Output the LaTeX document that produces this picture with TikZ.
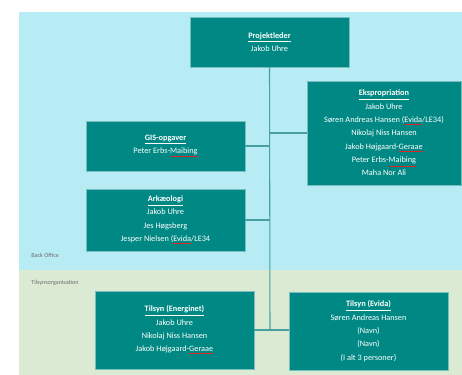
\documentclass[tikz,border=0pt]{standalone}
\usepackage{fontspec}
\setmainfont{Carlito}
\definecolor{boxteal}{RGB}{0,137,132}
\definecolor{edgeteal}{RGB}{120,190,190}
\definecolor{linkteal}{RGB}{70,160,162}
\definecolor{officeblue}{RGB}{184,236,245}
\definecolor{fieldgreen}{RGB}{218,234,211}
\definecolor{spellred}{RGB}{225,35,35}
\definecolor{labelgray}{RGB}{110,110,110}
% red underline for flagged words: the rule takes the outer colour
\newcommand\flagged[1]{\begingroup\color{spellred}\underline{\textcolor{white}{#1}}\endgroup}
\newcommand\boxtitle[1]{\underline{\textbf{#1}}}
\tikzset{
  unit/.style={fill=boxteal, draw=edgeteal, line width=0.5pt, text=white,
    align=center, inner sep=0pt, minimum width=119.25pt,
    font=\fontsize{6.2}{10}\selectfont},
  link/.style={draw=linkteal, line width=0.8pt},
  zonelabel/.style={anchor=west, text=labelgray, inner sep=0pt,
    font=\fontsize{4.6}{5}\selectfont}
}
\begin{document}
\begin{tikzpicture}[x=0.75pt,y=-0.75pt]
\useasboundingbox (0,0) rectangle (462,375);
% zones
\fill[officeblue] (19,12) rectangle (462,270);
\fill[fieldgreen] (19,270) rectangle (462,375);
\node[zonelabel] (backoffice) at (31,255) {Back Office};
\node[zonelabel] (tilsynorg) at (31,283) {Tilsynsorganisation};
% units
\node[unit, minimum height=37.5pt] (proj) at (269.5,42)
  {\boxtitle{Projektleder}\\Jakob Uhre};
\node[unit, minimum width=115.5pt, minimum height=78pt] (eksp) at (384,133)
  {\boxtitle{Ekspropriation}\\Jakob Uhre\\S\o ren Andreas Hansen (\flagged{Evida}/LE34)\\Nikolaj Niss Hansen\\Jakob H\o jgaard-\flagged{Geraae}\\Peter Erbs-\flagged{Maibing}\\Maha Nor Ali};
\node[unit, minimum height=37.5pt] (gis) at (165.5,146)
  {\boxtitle{GIS-opgaver}\\Peter Erbs-\flagged{Maibing}};
\node[unit, minimum height=46.5pt] (ark) at (165.5,220)
  {\boxtitle{Ark\ae ologi}\\Jakob Uhre\\Jes H\o gsberg\\Jesper Nielsen (\flagged{Evida}/LE34};
\node[unit, minimum height=58.5pt] (tenerg) at (174.5,330)
  {\boxtitle{Tilsyn (Energinet)}\\Jakob Uhre\\Nikolaj Niss Hansen\\Jakob H\o jgaard-\flagged{Geraae}};
\node[unit, minimum height=58.5pt] (tevida) at (368.5,331)
  {\boxtitle{Tilsyn (Evida)}\\S\o ren Andreas Hansen\\(Navn)\\(Navn)\\(I alt 3 personer)};
% connectors
\coordinate (spine) at (270,330);
\draw[link] (proj.south) -- (spine);
\draw[link] (gis.east) -- (gis.east -| spine);
\draw[link] (ark.east) -- (ark.east -| spine);
\draw[link] (eksp.west) -- (eksp.west -| spine);
\draw[link] (tenerg.east) -- (tenerg.east -| spine) -- (tevida.west |- spine);
\end{tikzpicture}
\end{document}
